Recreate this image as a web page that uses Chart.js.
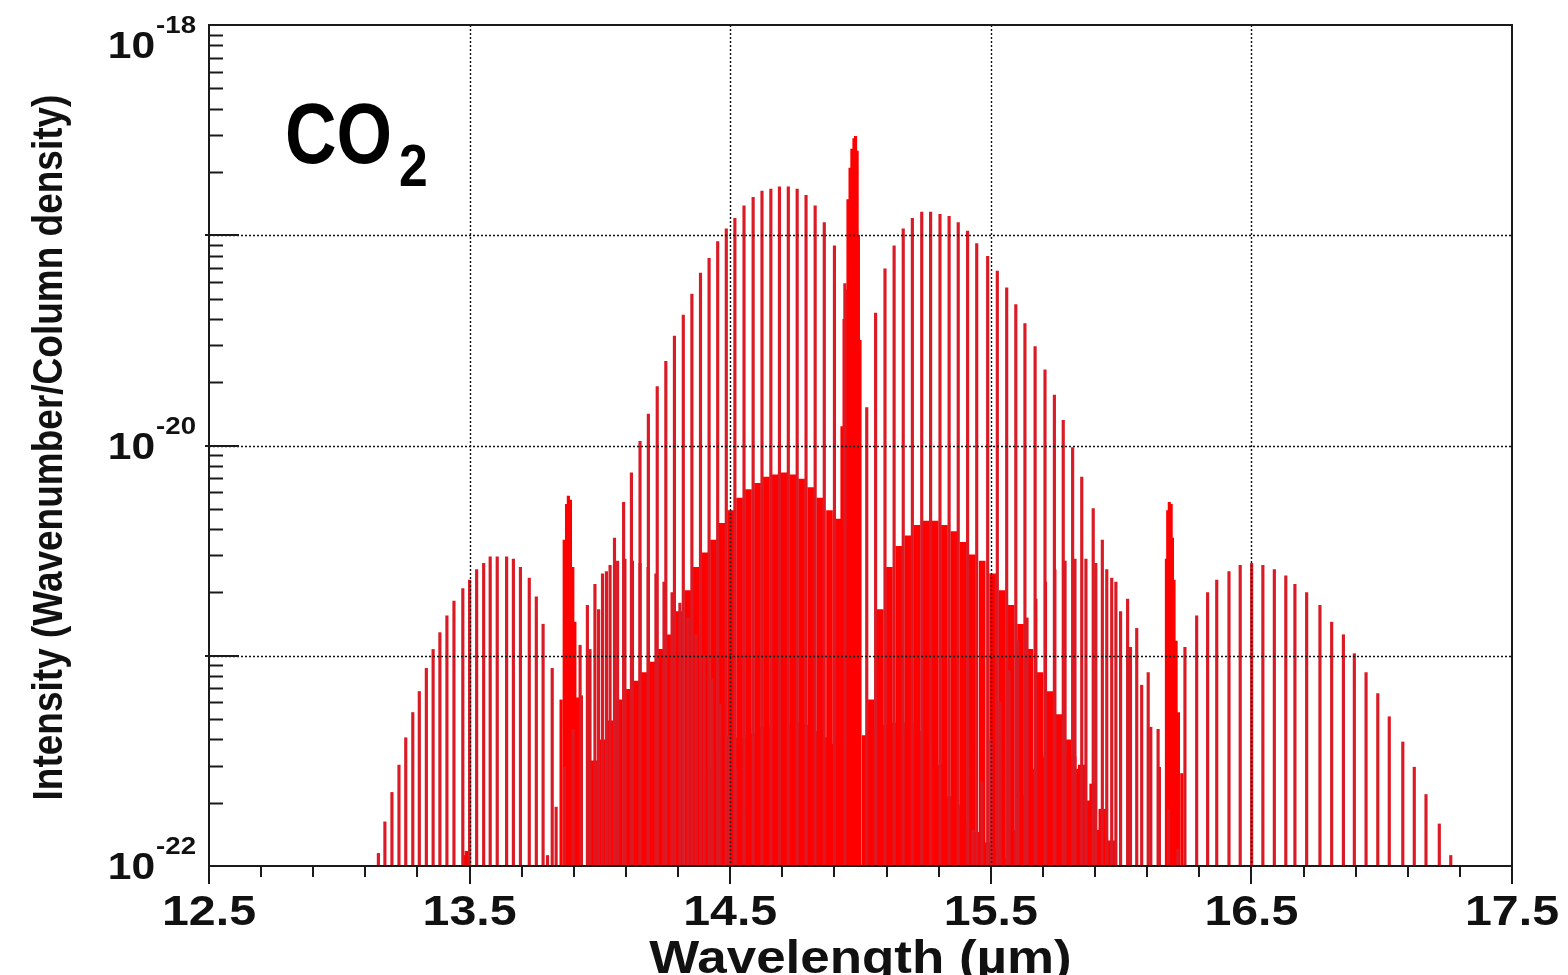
<!DOCTYPE html>
<html>
<head>
<meta charset="utf-8">
<title>CO2 line intensities</title>
<script src="https://cdn.jsdelivr.net/npm/chart.js@4.4.1/dist/chart.umd.min.js"></script>
<style>
  html, body { margin: 0; padding: 0; background: #fff; }
  canvas { display: block; }
</style>
</head>
<body>
<canvas id="spectrum" width="1568" height="975"></canvas>
<script>
// line positions in µm, intensities as log10 values

// fundamental band, R / Q / P branches
const fundR_um = [13.799, 13.832, 13.864, 13.897, 13.929, 13.962, 13.995, 14.025, 14.056, 14.091, 14.121, 14.154, 14.186, 14.220, 14.253, 14.286, 14.320, 14.353, 14.386, 14.419, 14.452, 14.485, 14.518, 14.553, 14.588, 14.622, 14.656, 14.689, 14.723, 14.757, 14.791, 14.826, 14.861, 14.900, 14.940];
const fundR_log = [-21.95, -21.72, -21.53, -21.35, -21.19, -20.97, -20.78, -20.60, -20.44, -20.27, -20.13, -19.98, -19.85, -19.72, -19.60, -19.48, -19.38, -19.28, -19.18, -19.11, -19.03, -18.97, -18.92, -18.86, -18.82, -18.79, -18.78, -18.77, -18.77, -18.78, -18.81, -18.86, -18.94, -19.05, -19.23];
const fundQ_um = [14.929, 14.937, 14.944, 14.952, 14.960, 14.967, 14.975, 14.981, 14.987, 14.992, 14.998];
const fundQ_log = [-19.91, -19.40, -19.26, -18.83, -18.68, -18.59, -18.54, -18.53, -18.60, -19.00, -19.50];
const fundP_um = [15.024, 15.058, 15.094, 15.129, 15.164, 15.199, 15.235, 15.269, 15.305, 15.340, 15.375, 15.411, 15.446, 15.488, 15.525, 15.561, 15.596, 15.631, 15.670, 15.708, 15.744, 15.778, 15.814, 15.849, 15.893, 15.928, 15.964, 15.998, 16.036, 16.079, 16.114, 16.147, 16.182, 16.218];
const fundP_log = [-19.82, -19.37, -19.16, -19.05, -18.97, -18.92, -18.89, -18.89, -18.90, -18.91, -18.94, -18.98, -19.04, -19.10, -19.17, -19.25, -19.33, -19.42, -19.53, -19.64, -19.76, -19.88, -20.01, -20.15, -20.30, -20.45, -20.63, -20.79, -20.96, -21.14, -21.34, -21.53, -21.73, -21.92];

// band with its Q branch near 13.88 µm
const b720R_um = [13.150, 13.175, 13.202, 13.229, 13.255, 13.282, 13.307, 13.334, 13.360, 13.386, 13.413, 13.440, 13.474, 13.500, 13.527, 13.554, 13.579, 13.606, 13.642, 13.668, 13.695, 13.729, 13.756, 13.782, 13.817];
const b720R_log = [-21.94, -21.79, -21.65, -21.52, -21.39, -21.27, -21.17, -21.06, -20.97, -20.89, -20.81, -20.74, -20.68, -20.64, -20.59, -20.56, -20.53, -20.53, -20.53, -20.54, -20.58, -20.63, -20.72, -20.85, -21.06];
const b720Q_um = [13.851, 13.863, 13.872, 13.879, 13.887, 13.896, 13.904, 13.914];
const b720Q_log = [-21.21, -20.45, -20.28, -20.24, -20.26, -20.58, -20.84, -21.20];
const b720P_um = [13.924, 13.952, 13.981, 14.010, 14.039, 14.068, 14.096, 14.125, 14.154, 14.185, 14.215, 14.246, 14.277, 14.307, 14.338, 14.369, 14.400, 14.430, 14.461, 14.492, 14.522, 14.553];
const b720P_log = [-20.95, -20.76, -20.66, -20.61, -20.57, -20.55, -20.54, -20.55, -20.56, -20.58, -20.61, -20.65, -20.70, -20.75, -20.82, -20.90, -21.00, -21.11, -21.23, -21.38, -21.54, -21.73];

// band with its Q branch near 16.19 µm
const b618R_um = [15.432, 15.466, 15.501, 15.535, 15.570, 15.604, 15.639, 15.673, 15.710, 15.746, 15.785, 15.823, 15.865, 15.903, 15.945, 15.980, 16.025, 16.060, 16.104, 16.142];
const b618R_log = [-21.83, -21.60, -21.40, -21.22, -21.07, -20.93, -20.82, -20.73, -20.65, -20.59, -20.55, -20.54, -20.54, -20.56, -20.59, -20.65, -20.73, -20.87, -21.08, -21.35];
const b618Q_um = [16.174, 16.179, 16.185, 16.192, 16.197, 16.203, 16.211, 16.220, 16.233];
const b618Q_log = [-20.54, -20.31, -20.27, -20.28, -20.44, -20.64, -20.93, -21.27, -21.56];
const b618P_um = [16.245, 16.290, 16.332, 16.367, 16.414, 16.457, 16.501, 16.544, 16.588, 16.632, 16.667, 16.712, 16.763, 16.808, 16.853, 16.895, 16.940, 16.985, 17.029, 17.081, 17.125, 17.170, 17.221, 17.265];
const b618P_log = [-20.96, -20.81, -20.70, -20.64, -20.60, -20.57, -20.56, -20.57, -20.59, -20.62, -20.66, -20.70, -20.76, -20.84, -20.90, -20.99, -21.08, -21.18, -21.29, -21.41, -21.53, -21.66, -21.80, -21.95];

// small Q branch at 13.5 µm
const b741Q_um = [13.479, 13.488, 13.498];
const b741Q_log = [-21.95, -21.93, -21.94];

// hot bands (dense, drawn as filled blocks)
const hot1R_um = [13.978, 14.010, 14.041, 14.073, 14.106, 14.138, 14.170, 14.203, 14.236, 14.269, 14.303, 14.337, 14.370, 14.403, 14.436, 14.469, 14.502, 14.536, 14.570, 14.605, 14.639, 14.673, 14.706, 14.740, 14.774, 14.809, 14.844, 14.881, 14.916];
const hot1R_log = [-21.50, -21.40, -21.31, -21.21, -21.16, -21.12, -21.08, -21.03, -20.97, -20.90, -20.79, -20.69, -20.58, -20.51, -20.45, -20.37, -20.31, -20.25, -20.21, -20.18, -20.15, -20.14, -20.13, -20.14, -20.16, -20.20, -20.25, -20.31, -20.35];
const hot1P_um = [15.041, 15.076, 15.111, 15.147, 15.182, 15.217, 15.252, 15.287, 15.322, 15.358, 15.393, 15.429, 15.467, 15.507, 15.543, 15.578, 15.614, 15.650, 15.689, 15.726, 15.761, 15.796, 15.832, 15.871, 15.911, 15.946];
const hot1P_log = [-21.21, -20.78, -20.58, -20.48, -20.43, -20.38, -20.36, -20.36, -20.38, -20.41, -20.46, -20.52, -20.55, -20.61, -20.69, -20.76, -20.85, -20.97, -21.08, -21.17, -21.28, -21.40, -21.54, -21.69, -21.83, -21.95];
const hot2R_um = [14.386, 14.419, 14.452, 14.485, 14.518, 14.553, 14.588, 14.622, 14.656, 14.689, 14.723, 14.757, 14.791, 14.826, 14.861, 14.900, 14.940];
const hot2R_log = [-21.64, -21.54, -21.46, -21.41, -21.39, -21.39, -21.37, -21.34, -21.33, -21.32, -21.32, -21.32, -21.33, -21.36, -21.39, -21.42, -21.50];
const hot2P_um = [15.024, 15.058, 15.094, 15.129, 15.164, 15.199, 15.235, 15.269, 15.305, 15.340, 15.375, 15.411, 15.446, 15.488, 15.525, 15.561];
const hot2P_log = [-21.38, -21.35, -21.33, -21.32, -21.32, -21.32, -21.36, -21.42, -21.52, -21.67, -21.71, -21.78, -21.84, -21.89, -21.92, -21.96];
const hot3_um = [15.596, 15.631, 15.670, 15.708, 15.744, 15.778, 15.814, 15.849, 15.893, 15.928, 15.964];
const hot3_log = [-21.83, -21.66, -21.54, -21.48, -21.46, -21.46, -21.48, -21.52, -21.61, -21.73, -21.88];

// axes
const xLabelValues = [12.5, 13.5, 14.5, 15.5, 16.5, 17.5];
const xGridValues = [13.5, 14.5, 15.5, 16.5];
const yGridValues = [1e-19, 1e-20, 1e-21];
const yLabelExps = [-18, -20, -22];

const FONT = '"Liberation Sans", Arial, sans-serif';
const BASE = 1e-22;
const LINE_RED = 'rgb(218,26,36)';
const FILL_RED = 'rgb(255,0,0)';

function sticks(wl, logI, color, width) {
  return {
    data: wl.map((w, i) => ({ x: w, y: [BASE, Math.pow(10, logI[i])] })),
    backgroundColor: color,
    barThickness: width,
    grouped: false,
    borderWidth: 0
  };
}

function wideText(ctx, str, x, y, font, sx, align) {
  ctx.save();
  ctx.font = font;
  ctx.textAlign = align;
  ctx.textBaseline = 'alphabetic';
  ctx.translate(x, y);
  ctx.scale(sx, 1);
  ctx.fillText(str, 0, 0);
  ctx.restore();
}

const axesPlugin = {
  id: 'axesPlugin',
  afterDatasetsDraw(chart) {
    const { ctx, chartArea: a, scales: { x, y } } = chart;
    ctx.save();

    // dotted grid, on top of the lines like in the original
    ctx.strokeStyle = '#111';
    ctx.lineWidth = 1.4;
    ctx.setLineDash([2, 2]);
    ctx.beginPath();
    xGridValues.forEach(v => {
      const px = Math.round(x.getPixelForValue(v)) + 0.5;
      ctx.moveTo(px, a.top);
      ctx.lineTo(px, a.bottom);
    });
    yGridValues.forEach(v => {
      const py = Math.round(y.getPixelForValue(v)) + 0.5;
      ctx.moveTo(a.left, py);
      ctx.lineTo(a.right, py);
    });
    ctx.stroke();
    ctx.setLineDash([]);

    // frame
    ctx.strokeStyle = '#1a1a1a';
    ctx.lineWidth = 2;
    ctx.strokeRect(a.left, a.top, a.right - a.left, a.bottom - a.top);

    // x ticks every 0.2 µm, longer at the labels
    ctx.beginPath();
    for (let i = 0; i <= 25; i++) {
      const px = Math.round(x.getPixelForValue(12.5 + i * 0.2));
      const len = i % 5 === 0 ? 18 : 11;
      ctx.moveTo(px, a.bottom);
      ctx.lineTo(px, a.bottom + len);
    }
    ctx.stroke();

    // y ticks: decades long, 2..9 short, pointing into the plot
    ctx.beginPath();
    for (let n = -22; n < -18; n++) {
      if (n > -22) {
        const py = Math.round(y.getPixelForValue(Math.pow(10, n)));
        ctx.moveTo(a.left - 4, py);
        ctx.lineTo(a.left + 30, py);
      }
      for (let k = 2; k <= 9; k++) {
        const py = Math.round(y.getPixelForValue(k * Math.pow(10, n))) + 0.5;
        ctx.moveTo(a.left, py);
        ctx.lineTo(a.left + 14, py);
      }
    }
    ctx.stroke();

    ctx.fillStyle = '#111';
    // x tick labels
    xLabelValues.forEach(v => {
      wideText(ctx, v.toFixed(1), x.getPixelForValue(v), a.bottom + 59, 'bold 42px ' + FONT, 1.15, 'center');
    });
    // x title
    wideText(ctx, 'Wavelength (\u00b5m)', (a.left + a.right) / 2, 973, 'bold 46px ' + FONT, 1.15, 'center');

    // y tick labels, 10 with a raised exponent
    const sx = 1.15;
    yLabelExps.forEach(e => {
      const py = Math.max(y.getPixelForValue(Math.pow(10, e)), a.top + 20);
      const expStr = String(e);
      ctx.font = 'bold 24px ' + FONT;
      const wExp = ctx.measureText(expStr).width * sx;
      const right = a.left - 13;
      wideText(ctx, expStr, right - wExp, py - 12, 'bold 24px ' + FONT, sx, 'left');
      wideText(ctx, '10', right - wExp - 1, py + 13, 'bold 37px ' + FONT, sx, 'right');
    });

    // y title, rotated
    ctx.save();
    ctx.translate(62, (a.top + a.bottom) / 2 + 2);
    ctx.rotate(-Math.PI / 2);
    ctx.scale(1, 1.15);
    ctx.font = 'bold 37px ' + FONT;
    ctx.textAlign = 'center';
    ctx.textBaseline = 'alphabetic';
    ctx.fillText('Intensity (Wavenumber/Column density)', 0, 0);
    ctx.restore();

    // CO2 label
    ctx.fillStyle = '#000';
    wideText(ctx, 'CO', 285, 163, 'bold 85px ' + FONT, 0.84, 'left');
    wideText(ctx, '2', 399, 186, 'bold 60px ' + FONT, 0.86, 'left');

    ctx.restore();
  }
};

new Chart(document.getElementById('spectrum'), {
  type: 'bar',
  data: {
    datasets: [
      sticks(fundR_um, fundR_log, LINE_RED, 2.5),
      sticks(fundQ_um, fundQ_log, FILL_RED, 2.5),
      sticks(fundP_um, fundP_log, LINE_RED, 2.5),
      sticks(b720R_um, b720R_log, LINE_RED, 2.5),
      sticks(b720Q_um, b720Q_log, FILL_RED, 2.5),
      sticks(b720P_um, b720P_log, LINE_RED, 2.5),
      sticks(b618R_um, b618R_log, LINE_RED, 2.5),
      sticks(b618Q_um, b618Q_log, FILL_RED, 2.5),
      sticks(b618P_um, b618P_log, LINE_RED, 2.5),
      sticks(b741Q_um, b741Q_log, FILL_RED, 3),
      sticks(hot1R_um, hot1R_log, FILL_RED, 6),
      sticks(hot1P_um, hot1P_log, FILL_RED, 6),
      sticks(hot2R_um, hot2R_log, FILL_RED, 9),
      sticks(hot2P_um, hot2P_log, FILL_RED, 9),
      sticks(hot3_um, hot3_log, FILL_RED, 7)
    ]
  },
  options: {
    responsive: false,
    maintainAspectRatio: false,
    animation: false,
    layout: { padding: { left: 209, right: 56, top: 25, bottom: 109 } },
    plugins: {
      legend: { display: false },
      tooltip: { enabled: false }
    },
    scales: {
      x: { type: 'linear', min: 12.5, max: 17.5, offset: false, display: false },
      y: { type: 'logarithmic', min: 1e-22, max: 1e-18, display: false }
    }
  },
  plugins: [axesPlugin]
});
</script>
</body>
</html>
